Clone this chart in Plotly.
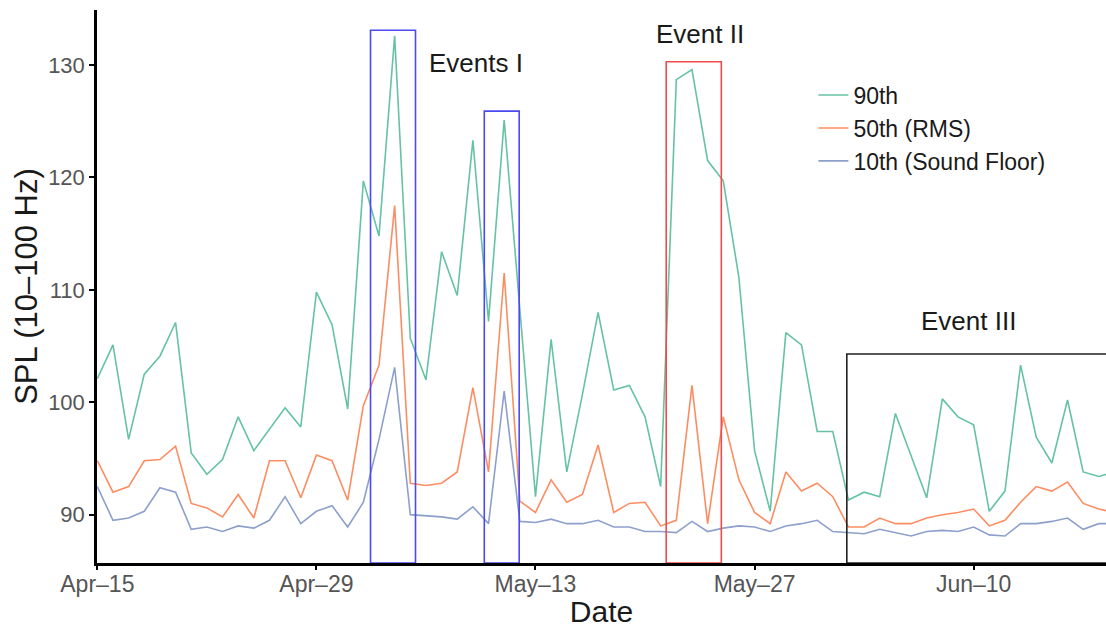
import pandas as pd
import plotly.graph_objects as go

start_date = "2021-04-15"
n_days = 66
dates = pd.date_range(start_date, periods=n_days, freq="D")

p90 = [102.1, 105.1, 96.7, 102.5, 104.1, 107.1, 95.5, 93.6, 94.9, 98.7,
       95.7, 97.6, 99.5, 97.8, 109.8, 106.9, 99.4, 119.7, 114.8, 132.6,
       105.7, 102.0, 113.4, 109.5, 123.3, 107.2, 125.1, 108.3, 91.6, 105.6,
       93.8, 100.7, 108.0, 101.1, 101.5, 98.7, 92.5, 128.7, 129.6, 121.5,
       119.7, 111.1, 95.7, 90.3, 106.2, 105.1, 97.4, 97.4, 91.3, 92.0,
       91.6, 99.0, 95.2, 91.5, 100.3, 98.7, 98.0, 90.3, 92.1, 103.3,
       96.9, 94.6, 100.2, 93.8, 93.4, 93.8]

p50 = [94.8, 92.0, 92.5, 94.8, 94.9, 96.1, 91.0, 90.6, 89.8, 91.8,
       89.7, 94.8, 94.8, 91.5, 95.3, 94.8, 91.3, 99.7, 103.3, 117.5,
       92.8, 92.6, 92.8, 93.8, 101.3, 93.8, 111.5, 91.2, 90.2, 93.1,
       91.1, 91.8, 96.2, 90.2, 91.0, 91.1, 89.0, 89.5, 101.5, 89.2,
       98.7, 93.1, 90.2, 89.2, 93.8, 92.1, 92.8, 91.6, 88.9, 88.9,
       89.7, 89.2, 89.2, 89.7, 90.0, 90.2, 90.5, 89.0, 89.5, 91.1,
       92.5, 92.1, 92.9, 91.0, 90.5, 90.2]

p10 = [92.5, 89.5, 89.7, 90.3, 92.4, 92.0, 88.7, 88.9, 88.5, 89.0,
       88.8, 89.5, 91.6, 89.2, 90.3, 90.8, 88.9, 91.1, 96.7, 103.1,
       90.0, 89.9, 89.8, 89.6, 90.7, 89.2, 101.0, 89.4, 89.3, 89.6,
       89.2, 89.2, 89.5, 88.9, 88.9, 88.5, 88.5, 88.4, 89.4, 88.5,
       88.8, 89.0, 88.9, 88.5, 89.0, 89.2, 89.5, 88.5, 88.4, 88.3,
       88.7, 88.4, 88.1, 88.5, 88.6, 88.5, 88.9, 88.2, 88.1, 89.2,
       89.2, 89.4, 89.7, 88.7, 89.2, 89.2]

series_names = ["90th", "50th (RMS)", "10th (Sound Floor)"]
series_colors = ["#66c2a5", "#fc8d62", "#8da0cb"]

tick_dates = ["2021-04-15", "2021-04-29", "2021-05-13", "2021-05-27", "2021-06-10"]
tick_labels = ["Apr\u201315", "Apr\u201329", "May\u201313", "May\u201327", "Jun\u201310"]
y_ticks = [90, 100, 110, 120, 130]

# event boxes: (x0, x1, y_top, color)
boxes = [
    ("2021-05-02 11:00", "2021-05-05 08:00", 133.1, "#4a4af0"),
    ("2021-05-09 17:30", "2021-05-11 23:00", 125.9, "#4a4af0"),
    ("2021-05-21 08:30", "2021-05-24 21:00", 130.3, "#f04a4a"),
    ("2021-06-01 21:30", "2021-06-19 12:00", 104.3, "#222222"),
]
labels = [
    ("2021-05-09 05:00", 130.2, "Events I"),
    ("2021-05-23 12:00", 132.8, "Event II"),
    ("2021-06-09 16:00", 107.2, "Event III"),
]

y_min, y_max = 85.7, 134.9

fig = go.Figure()
for name, vals, col in zip(series_names, [p90, p50, p10], series_colors):
    fig.add_trace(go.Scatter(x=dates, y=vals, mode="lines", name=name,
                             line=dict(color=col, width=1.6)))

for x0, x1, ytop, col in boxes:
    fig.add_shape(type="rect", x0=x0, x1=x1, y0=y_min, y1=ytop,
                  xref="x", yref="y", line=dict(color=col, width=1.6),
                  fillcolor="rgba(0,0,0,0)")

for x, y, t in labels:
    fig.add_annotation(x=x, y=y, text=t, showarrow=False,
                       font=dict(size=26, color="#1a1a1a", family="Liberation Sans, Arial"))

fig.update_layout(
    width=1106, height=628,
    margin=dict(l=97, r=0, t=10, b=65),
    plot_bgcolor="white", paper_bgcolor="white",
    font=dict(family="Liberation Sans, Arial", color="#4d4d4d"),
    legend=dict(x=0.71, y=0.885, xanchor="left", yanchor="top",
                font=dict(size=23, color="#1a1a1a"), bgcolor="rgba(0,0,0,0)",
                tracegroupgap=0, itemwidth=30),
    showlegend=True,
)
fig.update_xaxes(
    range=["2021-04-14 23:30", "2021-06-18 11:00"],
    tickvals=tick_dates, ticktext=tick_labels,
    showline=True, linecolor="black", linewidth=2.5,
    ticks="outside", ticklen=4, tickcolor="black", tickwidth=1.5,
    ticklabelstandoff=-5,
    tickfont=dict(size=23, color="#555555"),
    showgrid=False, zeroline=False,
    title=dict(text="Date", font=dict(size=30, color="#1a1a1a"), standoff=6),
)
fig.update_yaxes(
    range=[y_min, y_max],
    tickvals=y_ticks,
    showline=True, linecolor="black", linewidth=2.5,
    ticks="outside", ticklen=5, tickcolor="black", tickwidth=1.5,
    tickfont=dict(size=22, color="#555555"),
    showgrid=False, zeroline=False,
    title=dict(text="SPL (10\u2013100 Hz)", font=dict(size=31, color="#1a1a1a"), standoff=2),
)

fig.write_html("out.html")
